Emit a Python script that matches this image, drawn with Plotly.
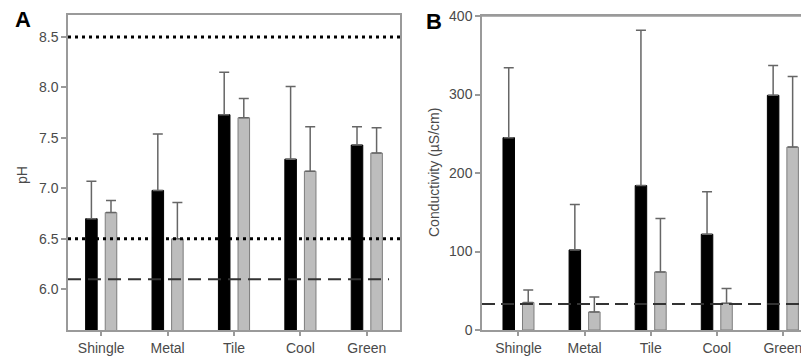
import plotly.graph_objects as go

categories = ["Shingle", "Metal", "Tile", "Cool", "Green"]

ph_black = [6.70, 6.98, 7.73, 7.29, 7.43]
ph_black_err = [0.37, 0.56, 0.42, 0.72, 0.18]
ph_gray = [6.76, 6.50, 7.70, 7.17, 7.35]
ph_gray_err = [0.12, 0.36, 0.19, 0.44, 0.25]

cond_black = [245, 102, 184, 122, 299]
cond_black_err = [89, 58, 198, 54, 38]
cond_gray = [35, 23, 74, 34, 233]
cond_gray_err = [16, 19, 68, 19, 90]

ph_dotted_lines = [6.5, 8.5]
ph_dashed_line = 6.1
cond_dashed_line = 33

ph_ticks = [6.0, 6.5, 7.0, 7.5, 8.0, 8.5]
cond_ticks = [0, 100, 200, 300, 400]

FONT = "Liberation Sans, Arial, sans-serif"
AXIS_COL = "#9a9a9a"
TXT_COL = "#4a4a4a"
ERR_COL = "#666666"
GRAY_FILL = "#bdbdbd"
GRAY_LINE = "#7d7d7d"

W, H = 809, 356
OFF = 8  # page offset of the plot div (default body margin)


def px(x):
    return (x - OFF) / W


def py(y):
    return 1 - (y - OFF) / H


def err(arr):
    return dict(type="data", array=arr, arrayminus=[0] * len(arr), symmetric=False,
                color=ERR_COL, thickness=1.5, width=5)


fig = go.Figure()
fig.add_trace(go.Bar(x=categories, y=ph_black, marker=dict(color="black", line=dict(color="black", width=1)),
                     error_y=err(ph_black_err), xaxis="x", yaxis="y", showlegend=False))
fig.add_trace(go.Bar(x=categories, y=ph_gray, marker=dict(color=GRAY_FILL, line=dict(color=GRAY_LINE, width=1)),
                     error_y=err(ph_gray_err), xaxis="x", yaxis="y", showlegend=False))
fig.add_trace(go.Bar(x=categories, y=cond_black, marker=dict(color="black", line=dict(color="black", width=1)),
                     error_y=err(cond_black_err), xaxis="x2", yaxis="y2", showlegend=False))
fig.add_trace(go.Bar(x=categories, y=cond_gray, marker=dict(color=GRAY_FILL, line=dict(color=GRAY_LINE, width=1)),
                     error_y=err(cond_gray_err), xaxis="x2", yaxis="y2", showlegend=False))

common_tick = dict(tickfont=dict(family=FONT, size=14, color=TXT_COL), ticks="outside",
                   tickcolor=AXIS_COL, tickwidth=1.5, showgrid=False, zeroline=False,
                   linecolor=AXIS_COL, linewidth=1.5, showline=True, automargin=False,
                   ticklabeloverflow="allow")

fig.update_layout(
    template="none",
    width=W, height=H,
    margin=dict(l=0, r=0, t=0, b=0, autoexpand=False),
    paper_bgcolor="white", plot_bgcolor="white",
    barmode="group", bargap=0.41, bargroupgap=0.41,
    xaxis=dict(domain=[px(68), px(400)], range=[-0.5, 4.5], mirror=True, ticklen=4, **common_tick),
    yaxis=dict(domain=[py(330), py(15)], range=[5.597, 8.718], tickvals=ph_ticks,
               ticktext=[f"{v:.1f}" for v in ph_ticks], mirror=True, ticklen=5, **common_tick),
    xaxis2=dict(domain=[px(482), 1.0], range=[-0.552, 4.516], mirror=True, anchor="y2", ticklen=4, **common_tick),
    yaxis2=dict(domain=[py(330), py(16)], range=[0, 400], tickvals=cond_ticks, anchor="x2", mirror=False,
                ticklen=5, **common_tick),
)

shapes = []
for v in ph_dotted_lines:
    shapes.append(dict(type="line", xref="x domain", yref="y", x0=0, x1=1, y0=v, y1=v, layer="above",
                       line=dict(color="black", width=3, dash="3px,4px")))
shapes.append(dict(type="line", xref="x domain", yref="y", x0=0, x1=0.967, y0=ph_dashed_line, y1=ph_dashed_line,
                   layer="above", line=dict(color="#333333", width=2, dash="13px,7px")))
shapes.append(dict(type="line", xref="x2 domain", yref="y2", x0=0, x1=1, y0=cond_dashed_line, y1=cond_dashed_line,
                   layer="above", line=dict(color="#333333", width=2, dash="13px,6px")))
# top border of panel B (box continues past the right edge)
shapes.append(dict(type="line", xref="x2 domain", yref="y2 domain", x0=0, x1=1, y0=1, y1=1, layer="above",
                   line=dict(color=AXIS_COL, width=1.5)))
fig.update_layout(shapes=shapes)

annots = [
    dict(text="<b>A</b>", x=px(23), y=py(20), xref="paper", yref="paper", showarrow=False,
         font=dict(family=FONT, size=22, color="black"), xanchor="center", yanchor="middle"),
    dict(text="<b>B</b>", x=px(434), y=py(21), xref="paper", yref="paper", showarrow=False,
         font=dict(family=FONT, size=22, color="black"), xanchor="center", yanchor="middle"),
    dict(text="pH", x=px(22), y=py(175), xref="paper", yref="paper", showarrow=False, textangle=-90,
         font=dict(family=FONT, size=14, color=TXT_COL), xanchor="center", yanchor="middle"),
    dict(text="Conductivity (µS/cm)", x=px(434), y=py(173), xref="paper", yref="paper", showarrow=False,
         textangle=-90, font=dict(family=FONT, size=14, color=TXT_COL), xanchor="center", yanchor="middle"),
]
fig.update_layout(annotations=annots)

fig.write_html("out.html")
